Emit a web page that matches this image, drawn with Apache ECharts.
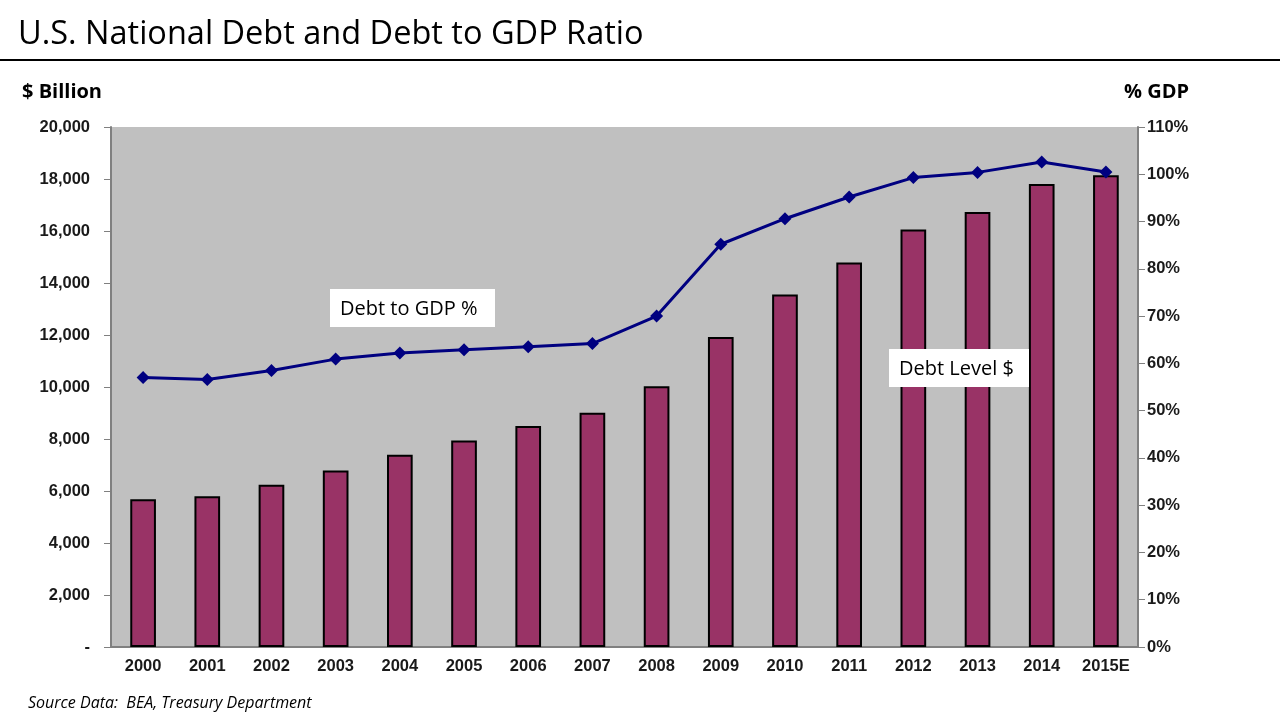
<!DOCTYPE html>
<html><head><meta charset="utf-8">
<script src="https://cdn.jsdelivr.net/npm/echarts@6/dist/echarts.min.js"></script>
<style>html,body{margin:0;padding:0;background:#fff}#c{width:1280px;height:720px}</style>
</head><body><div id="c"></div>
<script>
const categories = ['2000','2001','2002','2003','2004','2005','2006','2007','2008','2009','2010','2011','2012','2013','2014','2015E'];
const debtLevel = [5680, 5800, 6240, 6790, 7390, 7940, 8500, 9010, 10025, 11920, 13560, 14790, 16060, 16730, 17810, 18140];
const debtToGdp = [57.0, 56.6, 58.5, 60.9, 62.2, 62.9, 63.5, 64.2, 70.0, 85.2, 90.6, 95.2, 99.3, 100.4, 102.6, 100.5];
const leftTicks = [0, 2000, 20000]; // min, interval, max
const rightTicks = [0, 10, 110];

const chart = echarts.init(document.getElementById('c'));
const tickFont = {fontFamily:'Liberation Sans, Arial', fontWeight:'bold', fontSize:16.5, color:'#1a1a1a'};
chart.setOption({
  animation:false,
  grid:{left:111, right:142, top:127, bottom:73, show:true, backgroundColor:'#c0c0c0', borderWidth:0},
  xAxis:{type:'category', data:categories, boundaryGap:true,
    axisLine:{lineStyle:{color:'#808080', width:2}}, axisTick:{show:false},
    axisLabel:Object.assign({margin:11}, tickFont)},
  yAxis:[
    {type:'value', min:leftTicks[0], max:leftTicks[2], interval:leftTicks[1], position:'left',
     axisLine:{show:true, lineStyle:{color:'#808080', width:2}},
     axisTick:{show:true, length:7, lineStyle:{color:'#808080'}},
     splitLine:{show:false},
     axisLabel:Object.assign({margin:21, formatter:v=> v===0 ? '-' : v.toLocaleString('en-US')}, tickFont)},
    {type:'value', min:rightTicks[0], max:rightTicks[2], interval:rightTicks[1], position:'right',
     axisLine:{show:true, lineStyle:{color:'#808080', width:2}},
     axisTick:{show:true, length:7, lineStyle:{color:'#808080'}},
     splitLine:{show:false},
     axisLabel:Object.assign({margin:9, formatter:v=> v+'%'}, tickFont)}
  ],
  series:[
    {name:'Debt Level $', type:'bar', data:debtLevel, yAxisIndex:0, barWidth:'40%',
     itemStyle:{color:'#993366', borderColor:'#000', borderWidth:2}},
    {name:'Debt to GDP %', type:'line', data:debtToGdp, yAxisIndex:1,
     lineStyle:{color:'#000080', width:3}, itemStyle:{color:'#000080'},
     symbol:'diamond', symbolSize:13, z:5}
  ],
  graphic:[
    {type:'text', left:18, top:18, style:{text:'U.S. National Debt and Debt to GDP Ratio', font:'32.5px "Open Sans", "Noto Sans", sans-serif', fill:'#000'}},
    {type:'rect', shape:{x:0, y:59, width:1280, height:2}, style:{fill:'#000'}},
    {type:'text', left:22, top:82, style:{text:'$ Billion', font:'bold 20px "Open Sans", "Noto Sans", sans-serif', fill:'#000'}},
    {type:'text', left:1124, top:82, style:{text:'% GDP', font:'bold 20px "Open Sans", "Noto Sans", sans-serif', fill:'#000'}},
    {type:'rect', shape:{x:330, y:289, width:165, height:38}, style:{fill:'#fff'}, z:10},
    {type:'text', left:340, top:299, z:11, style:{text:'Debt to GDP %', font:'20px "Open Sans", "Noto Sans", sans-serif', fill:'#000'}},
    {type:'rect', shape:{x:889, y:349, width:140, height:38}, style:{fill:'#fff'}, z:10},
    {type:'text', left:899, top:359, z:11, style:{text:'Debt Level $', font:'20px "Open Sans", "Noto Sans", sans-serif', fill:'#000'}},
    {type:'text', left:28, top:695, style:{text:'Source Data:  BEA, Treasury Department', font:'italic 16px "Open Sans", "Noto Sans", sans-serif', fill:'#000'}}
  ]
});
</script></body></html>
